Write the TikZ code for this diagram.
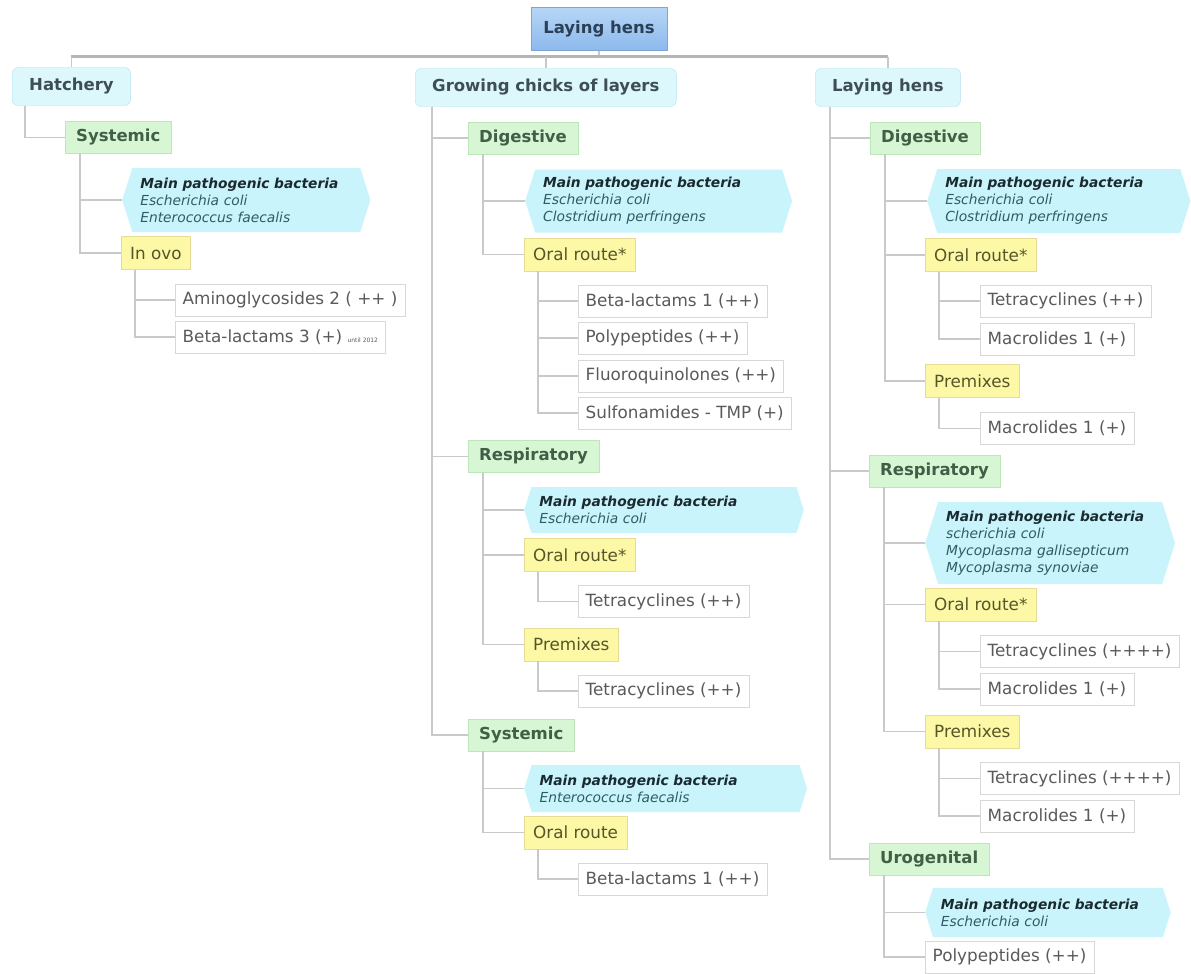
\documentclass[tikz,border=0pt]{standalone}
\usepackage{fontspec}
\setmainfont{DejaVu Sans}
\usepackage{tikz}
\usetikzlibrary{shapes.symbols}

\definecolor{linegray}{HTML}{C9C9C9}
\definecolor{busgray}{HTML}{B4B4B4}
\definecolor{roottop}{HTML}{B6D6F6}
\definecolor{rootbot}{HTML}{8CB9EC}
\definecolor{roottext}{HTML}{2B3F55}
\definecolor{colfill}{HTML}{DCF8FC}
\definecolor{colline}{HTML}{B5E3EC}
\definecolor{coltext}{HTML}{3E4E58}
\definecolor{grpfill}{HTML}{D7F6D3}
\definecolor{grpline}{HTML}{BFE5BB}
\definecolor{grptext}{HTML}{3F5F47}
\definecolor{routefill}{HTML}{FCF8A5}
\definecolor{routeline}{HTML}{E6DC98}
\definecolor{routetext}{HTML}{55552A}
\definecolor{drugline}{HTML}{D8D8D8}
\definecolor{drugtext}{HTML}{5A5A5A}
\definecolor{bactfill}{HTML}{C9F4FB}
\definecolor{bacttext}{HTML}{2E5C66}
\definecolor{bacthead}{HTML}{1A2A30}

\newcommand{\mainbact}{{\bfseries\color{bacthead}Main pathogenic bacteria}}

\tikzset{
  rootbox/.style={draw=rootbot!90!black, top color=roottop, bottom color=rootbot,
    text=roottext, font=\bfseries\fontsize{16.5}{19}\selectfont,
    minimum width=136pt, minimum height=43pt},
  colbox/.style={draw=colline, fill=colfill, rounded corners=6pt, text=coltext,
    font=\bfseries\fontsize{16.5}{19}\selectfont, inner xsep=17pt, minimum height=38pt, anchor=west},
  grpbox/.style={draw=grpline, fill=grpfill, text=grptext,
    font=\bfseries\fontsize{16.5}{19}\selectfont, inner xsep=11pt, minimum height=32pt, anchor=west},
  routebox/.style={draw=routeline, fill=routefill, text=routetext,
    font=\fontsize{16.8}{20}\selectfont, inner xsep=9pt, minimum height=33pt, anchor=west},
  drugbox/.style={draw=drugline, fill=white, text=drugtext,
    font=\fontsize{16.8}{20}\selectfont, inner xsep=7.5pt, minimum height=32pt, anchor=west},
  bactbox/.style={shape=signal, signal to=west and east, signal pointer angle=145,
    fill=bactfill, text=bacttext, font=\itshape\fontsize{13.8}{17}\selectfont,
    inner xsep=8pt, align=left, anchor=west},
  link/.style={draw=linegray, line width=1.5pt},
  busline/.style={draw=busgray, line width=3pt},
}

\begin{document}
\begin{tikzpicture}[x=1pt, y=-1pt]
\useasboundingbox (0,0) rectangle (1191,974);

% top level
\node[rootbox] (root) at (599,29) {Laying hens};
\node[colbox] (hat) at (12,86.5) {Hatchery};
\node[colbox] (grow) at (415,87.5) {Growing chicks of layers};
\node[colbox] (lay) at (815,87.5) {Laying hens};

\coordinate (bus) at (599,57);
\draw[link] (root.south) -- (bus);
\draw[busline] (hat.north |- bus) -- (lay.north |- bus);
\foreach \c in {hat,grow,lay} \draw[link] (\c.north |- bus) -- (\c.north);

% hatchery
\node[grpbox] (hsys) at (65,137.5) {Systemic};
\node[bactbox, minimum height=64pt, text width=212pt] (hbact) at (122,200)
  {\mainbact\\Escherichia coli\\Enterococcus faecalis};
\node[routebox] (hovo) at (121,253) {In ovo};
\node[drugbox] (hami) at (175,300) {Aminoglycosides 2 ( ++ )};
\node[drugbox] (hbeta) at (175,337) {Beta-lactams 3 (+) {\fontsize{6}{7}\selectfont until 2012}};

\draw[link] ([xshift=13pt]hat.south west) |- (hsys.west);
\foreach \c in {hbact,hovo} \draw[link] ([xshift=15pt]hsys.south west) |- (\c.west);
\foreach \c in {hami,hbeta} \draw[link] ([xshift=14pt]hovo.south west) |- (\c.west);

% growing chicks: digestive
\node[grpbox] (gdig) at (468,138) {Digestive};
\node[bactbox, minimum height=63pt, text width=231pt] (gdbact) at (525,201)
  {\mainbact\\Escherichia coli\\Clostridium perfringens};
\node[routebox] (gdoral) at (524,254.5) {Oral route*};
\foreach \n/\y/\t in {1/301/Beta-lactams 1 (++), 2/338/Polypeptides (++),
    3/376/Fluoroquinolones (++), 4/413/Sulfonamides - TMP (+)}
  \node[drugbox] (gd\n) at (578,\y) {\t};

% growing chicks: respiratory
\node[grpbox] (gresp) at (468,456.5) {Respiratory};
\node[bactbox, minimum height=46pt, text width=249pt] (grbact) at (524,510)
  {\mainbact\\Escherichia coli};
\node[routebox] (groral) at (524,555) {Oral route*};
\node[drugbox] (grtet) at (578,601.5) {Tetracyclines (++)};
\node[routebox] (grpre) at (524,644.5) {Premixes};
\node[drugbox] (grtet2) at (578,691) {Tetracyclines (++)};

% growing chicks: systemic
\node[grpbox] (gsys) at (468,735) {Systemic};
\node[bactbox, minimum height=47pt, text width=252pt] (gsbact) at (524,788.5)
  {\mainbact\\Enterococcus faecalis};
\node[routebox] (gsoral) at (524,832.5) {Oral route};
\node[drugbox] (gsbeta) at (578,879) {Beta-lactams 1 (++)};

\foreach \c in {gdig,gresp,gsys} \draw[link] ([xshift=17pt]grow.south west) |- (\c.west);
\foreach \c in {gdbact,gdoral} \draw[link] ([xshift=15pt]gdig.south west) |- (\c.west);
\foreach \n in {1,...,4} \draw[link] ([xshift=14pt]gdoral.south west) |- (gd\n.west);
\foreach \c in {grbact,groral,grpre} \draw[link] ([xshift=15pt]gresp.south west) |- (\c.west);
\draw[link] ([xshift=14pt]groral.south west) |- (grtet.west);
\draw[link] ([xshift=14pt]grpre.south west) |- (grtet2.west);
\foreach \c in {gsbact,gsoral} \draw[link] ([xshift=15pt]gsys.south west) |- (\c.west);
\draw[link] ([xshift=14pt]gsoral.south west) |- (gsbeta.west);

% laying hens: digestive
\node[grpbox] (ldig) at (870,138) {Digestive};
\node[bactbox, minimum height=64pt, text width=227pt] (ldbact) at (927,201)
  {\mainbact\\Escherichia coli\\Clostridium perfringens};
\node[routebox] (ldoral) at (925,255) {Oral route*};
\node[drugbox] (ldtet) at (980,301) {Tetracyclines (++)};
\node[drugbox] (ldmac) at (980,339) {Macrolides 1 (+)};
\node[routebox] (ldpre) at (925,381) {Premixes};
\node[drugbox] (ldmac2) at (980,428.5) {Macrolides 1 (+)};

% laying hens: respiratory
\node[grpbox] (lresp) at (869,471) {Respiratory};
\node[bactbox, minimum height=82pt, text width=208pt] (lrbact) at (925,543)
  {\mainbact\\scherichia coli\\Mycoplasma gallisepticum\\Mycoplasma synoviae};
\node[routebox] (lroral) at (925,604.5) {Oral route*};
\node[drugbox] (lrtet) at (980,651.5) {Tetracyclines (++++)};
\node[drugbox] (lrmac) at (980,689) {Macrolides 1 (+)};
\node[routebox] (lrpre) at (925,731.5) {Premixes};
\node[drugbox] (lrtet2) at (980,778.5) {Tetracyclines (++++)};
\node[drugbox] (lrmac2) at (980,816) {Macrolides 1 (+)};

% laying hens: urogenital
\node[grpbox] (luro) at (869,859) {Urogenital};
\node[bactbox, minimum height=49pt, text width=214pt] (lubact) at (925,912.5)
  {\mainbact\\Escherichia coli};
\node[drugbox] (lupoly) at (925,957) {Polypeptides (++)};

\foreach \c in {ldig,lresp,luro} \draw[link] ([xshift=15pt]lay.south west) |- (\c.west);
\foreach \c in {ldbact,ldoral,ldpre} \draw[link] ([xshift=15pt]ldig.south west) |- (\c.west);
\foreach \c in {ldtet,ldmac} \draw[link] ([xshift=14pt]ldoral.south west) |- (\c.west);
\draw[link] ([xshift=14pt]ldpre.south west) |- (ldmac2.west);
\foreach \c in {lrbact,lroral,lrpre} \draw[link] ([xshift=15pt]lresp.south west) |- (\c.west);
\foreach \c in {lrtet,lrmac} \draw[link] ([xshift=14pt]lroral.south west) |- (\c.west);
\foreach \c in {lrtet2,lrmac2} \draw[link] ([xshift=14pt]lrpre.south west) |- (\c.west);
\foreach \c in {lubact,lupoly} \draw[link] ([xshift=15pt]luro.south west) |- (\c.west);
\end{tikzpicture}
\end{document}
